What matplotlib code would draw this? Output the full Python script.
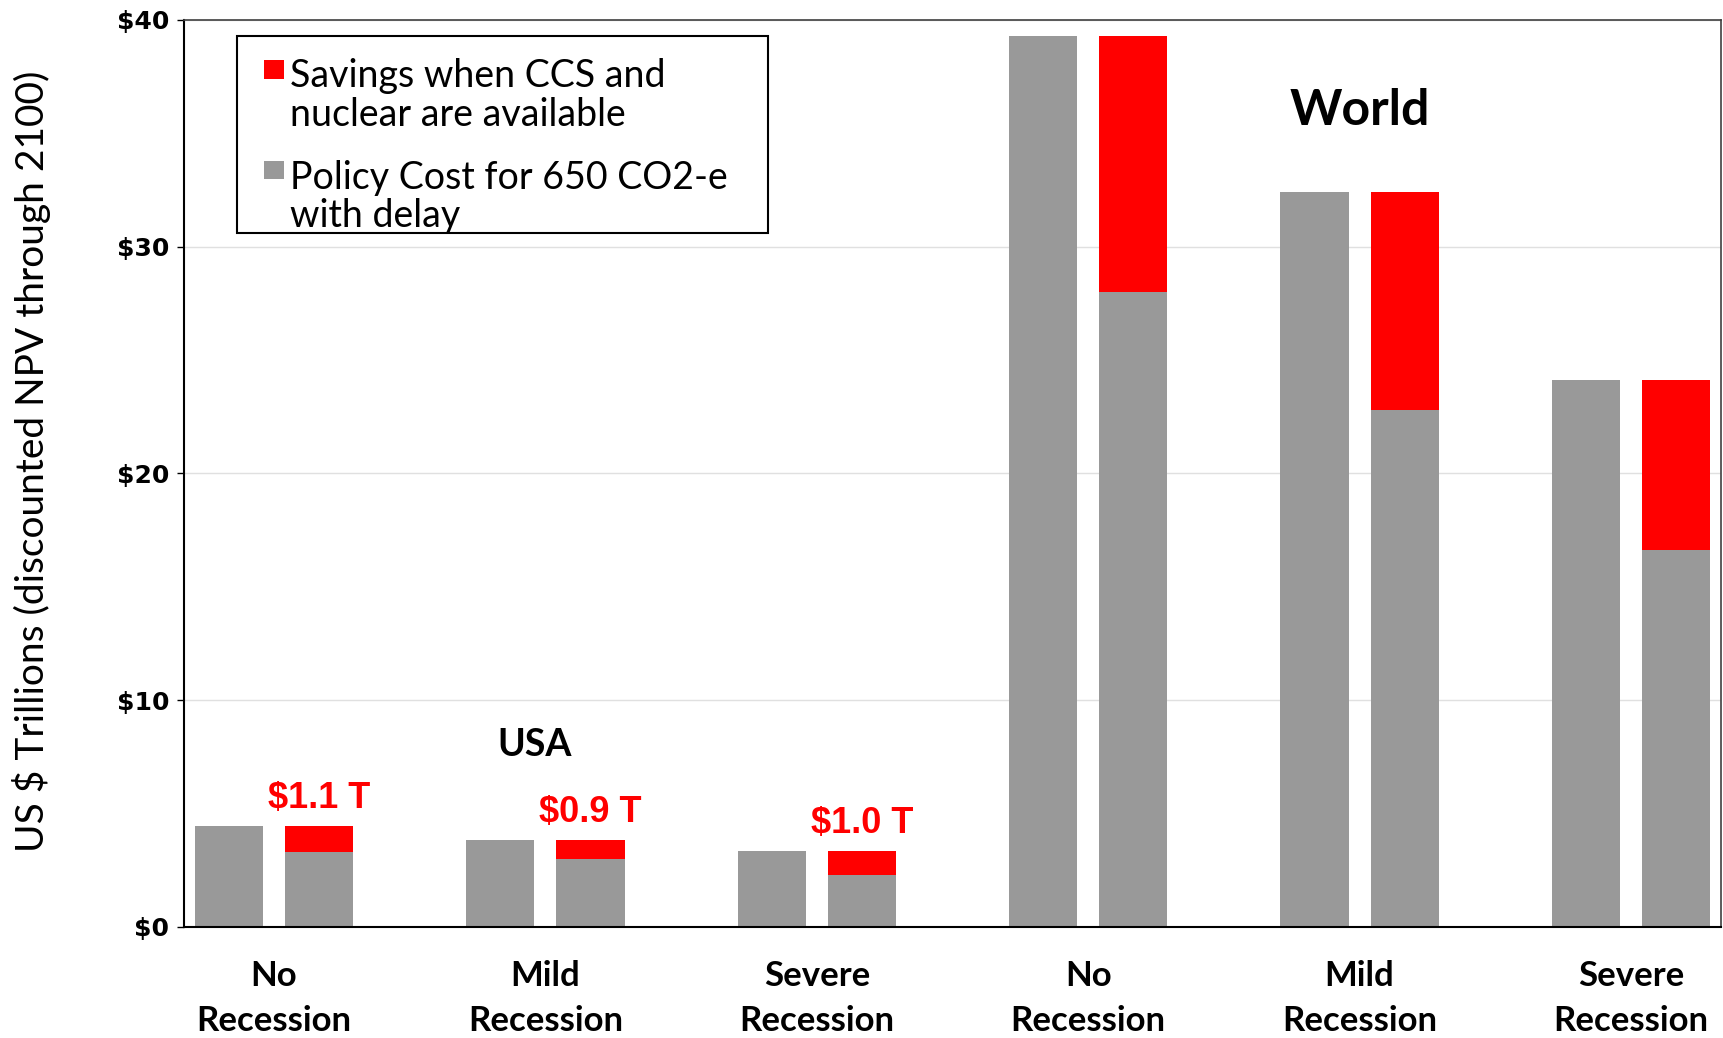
import numpy as np
import matplotlib
matplotlib.use('Agg')
import matplotlib.pyplot as plt
from matplotlib.patches import Rectangle

# data (US$ trillions, discounted NPV through 2100)
scenarios = ['No\nRecession', 'Mild\nRecession', 'Severe\nRecession',
             'No\nRecession', 'Mild\nRecession', 'Severe\nRecession']
policy_cost = [4.46, 3.83, 3.35, 39.3, 32.4, 24.1]
cost_with_ccs = [3.30, 3.00, 2.28, 27.98, 22.8, 16.6]
usa_savings_labels = ['$1.1 T', '$0.9 T', '$1.0 T']

GRAY = '#999999'
RED = '#ff0000'
TXT = 'Lato'

fig = plt.figure(figsize=(17.24, 10.38), dpi=100)
ax = fig.add_axes([0.107, 0.107, 0.891, 0.874])

x = np.arange(len(scenarios))
w = 0.251
off = 0.166
savings = np.array(policy_cost) - np.array(cost_with_ccs)

ax.bar(x - off, policy_cost, w, color=GRAY, zorder=2)
ax.bar(x + off, cost_with_ccs, w, color=GRAY, zorder=2)
ax.bar(x + off, savings, w, bottom=cost_with_ccs, color=RED, zorder=2)

for i, lab in enumerate(usa_savings_labels):
    ax.annotate(lab, (x[i] + off, policy_cost[i]), xytext=(0, 20),
                textcoords='offset points', ha='center', va='center',
                color=RED, fontsize=26, fontweight='bold',
                family='Liberation Sans')

ax.text(0.96, 8.0, 'USA', ha='center', va='center', fontsize=27,
        fontweight='bold', family=TXT)
ax.text(4.0, 36.0, 'World', ha='center', va='center', fontsize=36,
        fontweight='bold', family=TXT)

ax.set_xlim(-0.33, 5.33)
ax.set_ylim(0, 40)
ax.set_yticks([0, 10, 20, 30, 40])
ax.set_yticklabels(['$0', '$10', '$20', '$30', '$40'], fontsize=18,
                   fontweight='bold', family='DejaVu Sans')
ax.set_xticks(x)
ax.set_xticklabels(scenarios, fontsize=25, fontweight='bold', family=TXT,
                   linespacing=1.5)
ax.tick_params(axis='x', length=0, pad=24)
ax.tick_params(axis='y', length=5, width=1, pad=6)
ax.grid(axis='y', color='#e0e0e0', lw=1, zorder=0)

for s in ['left', 'bottom']:
    ax.spines[s].set_color('black')
    ax.spines[s].set_linewidth(1.5)
for s in ['top', 'right']:
    ax.spines[s].set_color('#404040')
    ax.spines[s].set_linewidth(1.2)

ax.set_ylabel('US $ Trillions (discounted NPV through 2100)', fontsize=28,
              family=TXT)
ax.yaxis.set_label_coords(-0.087, 0.513)

# legend drawn by hand so the swatches sit on the first text line
ax.add_patch(Rectangle((0.034, 0.765), 0.346, 0.217, transform=ax.transAxes,
                       facecolor='white', edgecolor='black', lw=1.5, zorder=5))
ax.add_patch(Rectangle((0.052, 0.935), 0.013, 0.021, transform=ax.transAxes,
                       facecolor=RED, edgecolor='none', zorder=6))
ax.add_patch(Rectangle((0.052, 0.824), 0.013, 0.02, transform=ax.transAxes,
                       facecolor=GRAY, edgecolor='none', zorder=6))
ax.text(0.069, 0.922, 'Savings when CCS and\nnuclear are available',
        transform=ax.transAxes, va='center_baseline', ha='left', fontsize=27,
        family=TXT, linespacing=1.1, zorder=7)
ax.text(0.069, 0.810, 'Policy Cost for 650 CO2-e\nwith delay',
        transform=ax.transAxes, va='center_baseline', ha='left', fontsize=27,
        family=TXT, linespacing=1.1, zorder=7)

fig.savefig('out.png', dpi=100)
